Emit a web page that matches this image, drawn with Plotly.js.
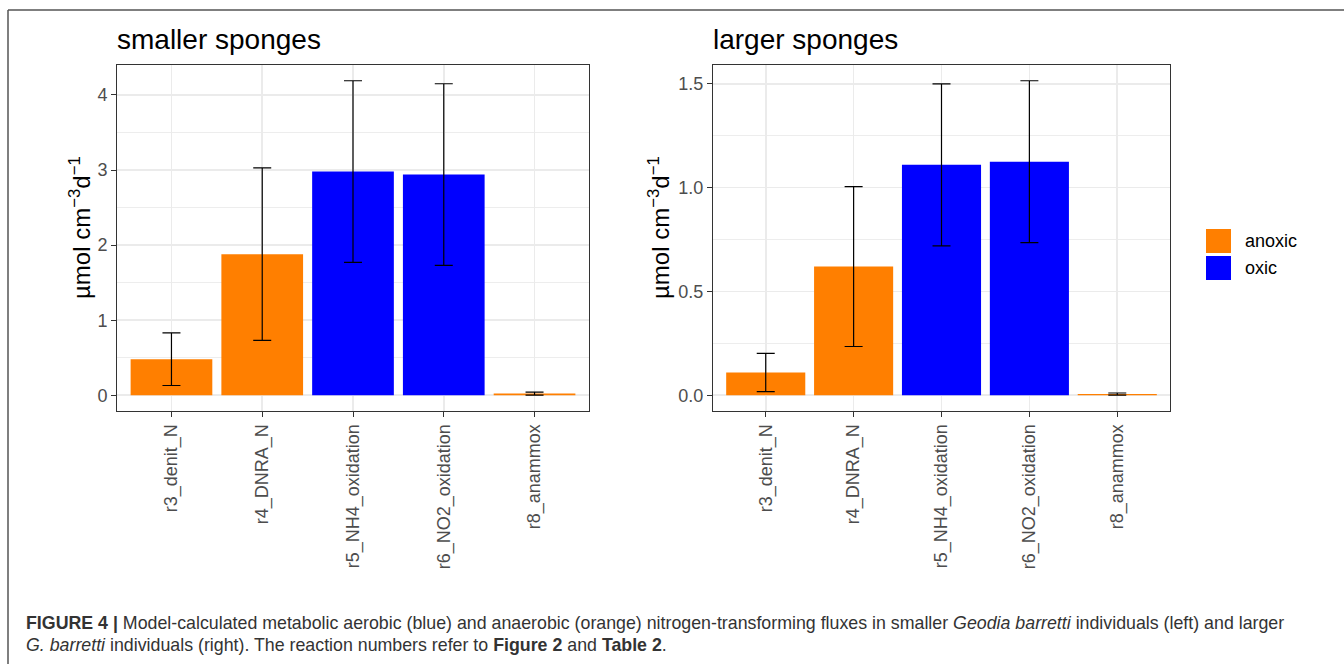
<!DOCTYPE html>
<html>
<head>
<meta charset="utf-8">
<script src="https://cdn.plot.ly/plotly-3.0.1.min.js"></script>
<style>
  html, body { margin: 0; padding: 0; background: #ffffff; }
  #chart { width: 1344px; height: 664px; }
</style>
</head>
<body>
<div id="chart"></div>
<script>
// ---- data ----
const categories = ['r3_denit_N', 'r4_DNRA_N', 'r5_NH4_oxidation', 'r6_NO2_oxidation', 'r8_anammox'];
const condition  = ['anoxic', 'anoxic', 'oxic', 'oxic', 'anoxic'];
const smallMean  = [0.48, 1.88, 2.98, 2.94, 0.022];
const smallSD    = [0.35, 1.15, 1.21, 1.21, 0.02];
const largeMean  = [0.11, 0.62, 1.11, 1.125, 0.006];
const largeSD    = [0.092, 0.385, 0.39, 0.39, 0.005];
const groups     = ['anoxic', 'oxic'];
const panelTitles = ['smaller sponges', 'larger sponges'];
const yTicksSmall = [0, 1, 2, 3, 4];
const yTicksLarge = [0, 0.5, 1.0, 1.5];
const yTickTextLarge = ['0.0', '0.5', '1.0', '1.5'];

const colors = { anoxic: '#FF7F00', oxic: '#0000FF' };
const W = 1344, H = 664;
const px = v => v / W;
const py = v => 1 - v / H;

function makeTraces(means, sds, xa, ya) {
  return groups.map(g => {
    const idx = categories.map((c, i) => i).filter(i => condition[i] === g);
    return {
      type: 'bar',
      name: g,
      x: idx.map(i => categories[i]),
      y: idx.map(i => means[i]),
      width: 0.9,
      marker: { color: colors[g], line: { width: 0 } },
      error_y: { type: 'data', array: idx.map(i => sds[i]), visible: true,
                 color: '#000000', thickness: 1.2, width: 9 },
      xaxis: xa, yaxis: ya,
      showlegend: false,
      hoverinfo: 'x+y'
    };
  });
}

function yRange(means, sds) {
  const hi = Math.max(...means.map((m, i) => m + sds[i]));
  return [-0.05 * hi, hi * 1.05];
}

const traces = [
  ...makeTraces(smallMean, smallSD, 'x', 'y'),
  ...makeTraces(largeMean, largeSD, 'x2', 'y2')
];

const tickFont = { family: 'Liberation Sans, Arial, sans-serif', size: 18, color: '#4D4D4D' };
const gridC = '#EBEBEB';

function xAxis(domain, anchor) {
  return {
    domain: domain, anchor: anchor,
    type: 'category', categoryorder: 'array', categoryarray: categories,
    range: [-0.6, 4.6],
    tickangle: -90, tickfont: tickFont,
    ticks: 'outside', ticklen: 5, tickwidth: 1, tickcolor: '#333333',
    showline: true, linecolor: '#333333', linewidth: 1, mirror: true,
    showgrid: true, gridcolor: gridC, gridwidth: 1.6,
    zeroline: false, fixedrange: true
  };
}
function yAxis(anchor, range, tickvals, ticktext, minorDt) {
  return {
    domain: [py(411), py(65)], anchor: anchor,
    range: range, tickvals: tickvals, ticktext: ticktext,
    tickfont: tickFont,
    ticks: 'outside', ticklen: 5, tickwidth: 1, tickcolor: '#333333',
    showline: true, linecolor: '#333333', linewidth: 1, mirror: true,
    showgrid: true, gridcolor: gridC, gridwidth: 1.6,
    minor: { dtick: minorDt, tick0: 0, showgrid: true, gridcolor: gridC, gridwidth: 0.9, ticks: '' },
    zeroline: false, fixedrange: true
  };
}

const yTitle = 'µmol cm<sup>−3</sup>d<sup>−1</sup>';
const titleFont = { family: 'Liberation Sans, Arial, sans-serif', size: 28, color: '#000000' };
const capFont = { family: 'Liberation Sans, Arial, sans-serif', size: 17.8, color: '#333333' };
const yTitleFont = { family: 'Liberation Sans, Arial, sans-serif', size: 24, color: '#000000' };

const annotations = [
  { text: panelTitles[0], xref: 'paper', yref: 'paper', x: px(115), y: py(40), xanchor: 'left', yanchor: 'middle', showarrow: false, font: titleFont },
  { text: panelTitles[1], xref: 'paper', yref: 'paper', x: px(711), y: py(40), xanchor: 'left', yanchor: 'middle', showarrow: false, font: titleFont },
  { text: yTitle, xref: 'paper', yref: 'paper', x: px(80), y: py(228), textangle: -90, xanchor: 'center', yanchor: 'middle', showarrow: false, font: yTitleFont },
  { text: yTitle, xref: 'paper', yref: 'paper', x: px(659), y: py(228), textangle: -90, xanchor: 'center', yanchor: 'middle', showarrow: false, font: yTitleFont },
  { text: groups[0], xref: 'paper', yref: 'paper', x: px(1243), y: py(241), xanchor: 'left', yanchor: 'middle', showarrow: false, font: { family: 'Liberation Sans, Arial, sans-serif', size: 18, color: '#000000' } },
  { text: groups[1], xref: 'paper', yref: 'paper', x: px(1243), y: py(268), xanchor: 'left', yanchor: 'middle', showarrow: false, font: { family: 'Liberation Sans, Arial, sans-serif', size: 18, color: '#000000' } },
  { text: '<b>FIGURE 4 |</b> Model-calculated metabolic aerobic (blue) and anaerobic (orange) nitrogen-transforming fluxes in smaller <i>Geodia barretti</i> individuals (left) and larger',
    xref: 'paper', yref: 'paper', x: px(24), y: py(623), xanchor: 'left', yanchor: 'middle', showarrow: false, font: capFont },
  { text: '<i>G. barretti</i> individuals (right). The reaction numbers refer to <b>Figure 2</b> and <b>Table 2</b>.',
    xref: 'paper', yref: 'paper', x: px(24), y: py(645), xanchor: 'left', yanchor: 'middle', showarrow: false, font: capFont }
];

const shapes = [
  { type: 'line', xref: 'paper', yref: 'paper', x0: px(8), x1: 1, y0: py(10), y1: py(10), line: { color: '#555555', width: 1.5 } },
  { type: 'line', xref: 'paper', yref: 'paper', x0: px(8), x1: px(8), y0: py(10), y1: 0, line: { color: '#555555', width: 1.5 } },
  { type: 'rect', xref: 'paper', yref: 'paper', x0: px(1206), x1: px(1231), y0: py(253), y1: py(229), fillcolor: colors.anoxic, line: { width: 0 } },
  { type: 'rect', xref: 'paper', yref: 'paper', x0: px(1206), x1: px(1231), y0: py(280), y1: py(256), fillcolor: colors.oxic, line: { width: 0 } }
];

const layout = {
  width: W, height: H,
  margin: { l: 0, r: 0, t: 0, b: 0 },
  paper_bgcolor: '#ffffff', plot_bgcolor: '#ffffff',
  barmode: 'overlay',
  showlegend: false,
  xaxis: xAxis([px(117), px(589)], 'y'),
  yaxis: yAxis('x', yRange(smallMean, smallSD), yTicksSmall, yTicksSmall.map(String), 0.5),
  xaxis2: xAxis([px(713), px(1170)], 'y2'),
  yaxis2: yAxis('x2', yRange(largeMean, largeSD), yTicksLarge, yTickTextLarge, 0.25),
  annotations: annotations,
  shapes: shapes
};

Plotly.newPlot('chart', traces, layout, { displayModeBar: false, staticPlot: true });
</script>
</body>
</html>
